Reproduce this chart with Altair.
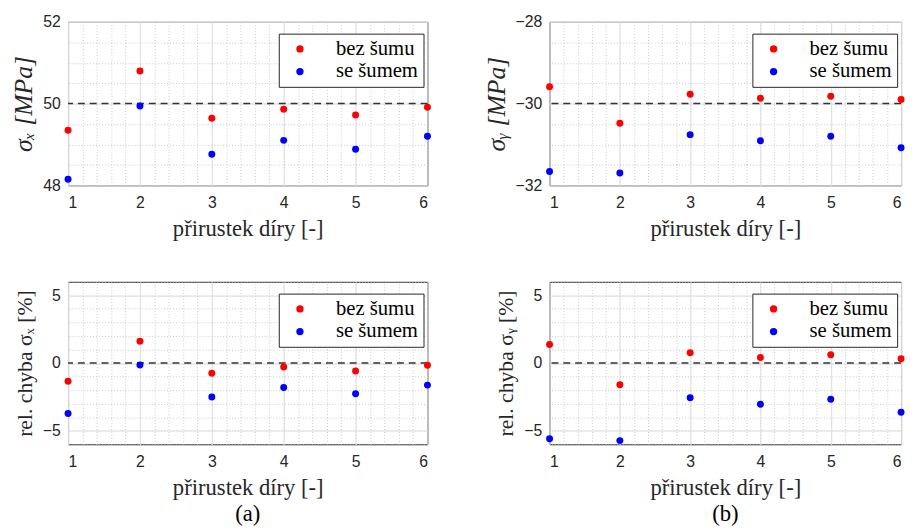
import altair as alt
import pandas as pd

# ---- data ----
prirustek = [1, 2, 3, 4, 5, 6]
serie = ["bez šumu", "se šumem"]

sx_bez = [49.35, 50.80, 49.64, 49.86, 49.72, 49.91]
sx_se = [48.15, 49.94, 48.76, 49.10, 48.88, 49.20]
sy_bez = [-29.59, -30.48, -29.77, -29.87, -29.82, -29.90]
sy_se = [-31.66, -31.70, -30.76, -30.91, -30.80, -31.08]
ex_bez = [-1.34, 1.61, -0.76, -0.29, -0.59, -0.17]
ex_se = [-3.73, -0.15, -2.51, -1.80, -2.27, -1.63]
ey_bez = [1.37, -1.61, 0.76, 0.41, 0.61, 0.32]
ey_se = [-5.59, -5.73, -2.56, -3.05, -2.68, -3.63]

x_major = [1, 2, 3, 4, 5, 6]
x_minor = [round(1 + 0.2 * i, 1) for i in range(26)]

COL = "#262626"
SANS = "Liberation Sans"
SERIF = "Liberation Serif"


def panel(bez, se, ref, ydom, ymaj, ymin, ytitle, italic, caption, w, h):
    df = pd.DataFrame({
        "x": prirustek * 2,
        "y": bez + se,
        "s": [serie[0]] * 6 + [serie[1]] * 6,
    })
    xs = alt.Scale(domain=[1, 6], nice=False, zero=False)
    ys = alt.Scale(domain=ydom, nice=False, zero=False)

    minor = alt.Chart(df).mark_point(opacity=0).encode(
        x=alt.X("x:Q", scale=xs, axis=alt.Axis(orient="top", values=x_minor, grid=True, gridDash=[1, 2],
                                              gridColor="#bdbdbd", gridOpacity=0.8,
                                              labels=False, ticks=False, domain=False, title=None)),
        y=alt.Y("y:Q", scale=ys, axis=alt.Axis(orient="right", values=ymin, grid=True, gridDash=[1, 2],
                                              gridColor="#bdbdbd", gridOpacity=0.8,
                                              labels=False, ticks=False, domain=False, title=None)),
    )

    pts = alt.Chart(df).mark_circle(size=50, opacity=1).encode(
        x=alt.X("x:Q", scale=xs, axis=alt.Axis(
            orient="bottom",
            values=x_major, format="d", grid=True, gridColor="#dedede",
            labelFont=SANS, labelFontSize=16, labelColor=COL, labelPadding=10,
            domain=False, ticks=False,
            title="přirustek díry [-]", titleFont=SERIF, titleFontSize=23,
            titleFontWeight="normal", titleColor=COL, titlePadding=7)),
        y=alt.Y("y:Q", scale=ys, axis=alt.Axis(
            orient="left",
            values=ymaj, format="d", grid=True, gridColor="#dedede",
            labelFont=SANS, labelFontSize=16, labelColor=COL, labelPadding=8,
            domain=False, ticks=False,
            title=ytitle, titleFont=SERIF, titleFontSize=26 if italic else 22,
            titleFontStyle="italic" if italic else "normal",
            titleFontWeight="normal", titleColor=COL, titlePadding=6)),
        color=alt.Color("s:N", scale=alt.Scale(domain=serie, range=["#ff0000", "#0000ff"]),
                        legend=alt.Legend(title=None, orient="none", legendX=w - 151, legendY=12,
                                          strokeColor=COL, fillColor="white", padding=5,
                                          symbolType="circle", symbolSize=55, symbolStrokeWidth=0,
                                          symbolOffset=6, labelOffset=26,
                                          labelFont=SERIF, labelFontSize=21, labelColor="#000000",
                                          labelFontWeight="normal",
                                          rowPadding=1, cornerRadius=0)),
    )

    rule = alt.Chart(pd.DataFrame({"ref": [ref]})).mark_rule(
        color="#333333", strokeDash=[7, 5], strokeWidth=1.6
    ).encode(y=alt.Y("ref:Q", scale=ys, axis=None))

    ch = alt.layer(minor, rule, pts).resolve_axis(x="independent", y="independent")
    props = dict(width=w, height=h)
    if caption:
        props["title"] = alt.TitleParams(caption, orient="bottom", font=SERIF, fontSize=23,
                                         fontWeight="normal", color="#000000", offset=4)
    return ch.properties(**props)


tl = panel(sx_bez, sx_se, 50, [48, 52], [48, 50, 52],
           [48 + 0.5 * i for i in range(9)], "σₓ  [MPa]", True, None, 365, 166)
tr = panel(sy_bez, sy_se, -30, [-32, -28], [-32, -30, -28],
           [-32 + 0.5 * i for i in range(9)], "σᵧ  [MPa]", True, None, 357, 166)
bl = panel(ex_bez, ex_se, 0, [-6, 6], [-5, 0, 5],
           list(range(-6, 7)), "rel. chyba σₓ [%]", False, "(a)", 365, 165)
br = panel(ey_bez, ey_se, 0, [-6, 6], [-5, 0, 5],
           list(range(-6, 7)), "rel. chyba σᵧ [%]", False, "(b)", 357, 165)

chart = alt.concat(tl, tr, bl, br, columns=2, spacing={"row": 40, "column": 51}).resolve_scale(
    color="independent", x="independent", y="independent"
).resolve_legend(color="independent").properties(
    padding={"left": 2, "top": 1, "right": 0, "bottom": 0}
).configure(font=SERIF).configure_view(stroke=COL, strokeWidth=1)

chart.save("out.html", embed_options={"renderer": "svg", "actions": False})
